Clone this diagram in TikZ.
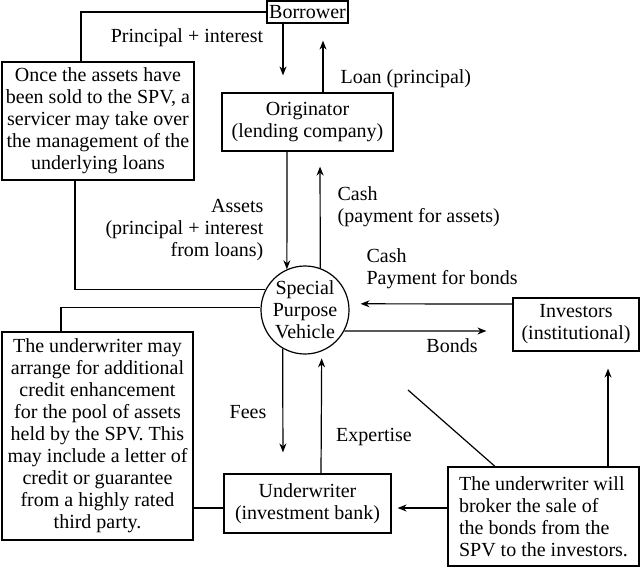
\documentclass[tikz,border=0pt]{standalone}
\usepackage{fontspec}
\setmainfont{Liberation Serif}
\usetikzlibrary{arrows.meta}

\begin{document}
\begin{tikzpicture}[x=0.5pt,y=-0.5pt,line width=0.6pt,
  font=\fontsize{10}{11}\selectfont,
  box/.style={draw,rectangle,align=center,inner sep=2pt},
  lbl/.style={inner sep=0pt},
  arr/.style={-{Stealth[length=4.5pt,width=3.5pt]}}]
\useasboundingbox (0,0) rectangle (640,568);

\node[box,inner sep=1pt,minimum width=40.5pt,minimum height=11pt] (borrower) at (307.5,12) {Borrower};
\node[box,minimum width=95pt,minimum height=59pt] (servicer) at (98,121) {Once the assets have\\been sold to the SPV, a\\servicer may take over\\the management of the\\underlying loans};
\node[box,minimum width=85.5pt,minimum height=29pt] (orig) at (307.5,122) {Originator\\(lending company)};
\node[draw,circle,align=center,inner sep=-2pt,minimum size=44pt] (spv) at (305,310) {Special\\Purpose\\Vehicle};
\node[box,minimum width=63pt,minimum height=26.5pt] (inv) at (576,324.5) {Investors\\(institutional)};
\node[box,minimum width=95.5pt,minimum height=104pt] (note) at (97.5,436) {The underwriter may\\arrange for additional\\credit enhancement\\for the pool of assets\\held by the SPV. This\\may include a letter of\\credit or guarantee\\from a highly rated\\third party.};
\node[box,minimum width=83.5pt,minimum height=29.5pt] (uw) at (307.5,503.5) {Underwriter\\(investment bank)};
\node[box,align=left,minimum width=95.5pt,minimum height=49.5pt] (broker) at (543.5,516.5) {The underwriter will\\broker the sale of\\the bonds from the\\SPV to the investors.};

% labels
\node[lbl] (pi) at (187,38) {Principal + interest};
\node[lbl,anchor=west] (loan) at (340,79) {Loan (principal)};
\node[lbl,anchor=east,align=right] (assets) at (264,230) {Assets\\(principal + interest\\from loans)};
\node[lbl,anchor=west,align=left] (cashA) at (337,207) {Cash\\(payment for assets)};
\node[lbl,anchor=west,align=left] (cashB) at (366,269) {Cash\\Payment for bonds};
\node[lbl] (bonds) at (452,346) {Bonds};
\node[lbl] (fees) at (248,412) {Fees};
\node[lbl] (exp) at (374,437) {Expertise};

\coordinate (diag) at (408,390);

% plain links
\draw (borrower.west) -| ([xshift=-8.5pt]servicer.north);
\draw ([xshift=-11.5pt]servicer.south) |- (spv.153);
\draw (spv.177) -| ([xshift=-18.25pt]note.north);
\draw ([yshift=-36pt]note.east) -- ([yshift=-2.25pt]uw.west);
\draw (diag) -- ([xshift=-24.25pt]broker.north);

% flows
\draw[arr,shorten >=8.5pt] ([xshift=-12.25pt]borrower.south) -- ([xshift=-12.25pt]orig.north);
\draw[arr,shorten >=8.5pt] ([xshift=7.75pt]orig.north) -- ([xshift=7.75pt]borrower.south);
\draw[arr] ([xshift=-10.25pt]orig.south) -- (spv.114);
\draw[arr,shorten >=7.5pt] (spv.70) -- ([xshift=6.25pt]orig.south);
\draw[arr,shorten >=5.7pt] ([yshift=10.25pt]inv.west) -- (spv.8);
\draw[arr,shorten >=13pt] (spv.-28.5) -- ([yshift=-3.25pt]inv.west);
\draw[arr,shorten >=10.5pt] (spv.-120) -- ([xshift=-12.25pt]uw.north);
\draw[arr,shorten >=3.5pt] ([xshift=6.75pt]uw.north) -- (spv.-68.7);
\draw[arr,shorten >=3pt] ([yshift=4.25pt]broker.west) -- ([yshift=-2.25pt]uw.east);
\draw[arr,shorten >=8.5pt] ([xshift=32.25pt]broker.north) -- ([xshift=16pt]inv.south);
\end{tikzpicture}
\end{document}
